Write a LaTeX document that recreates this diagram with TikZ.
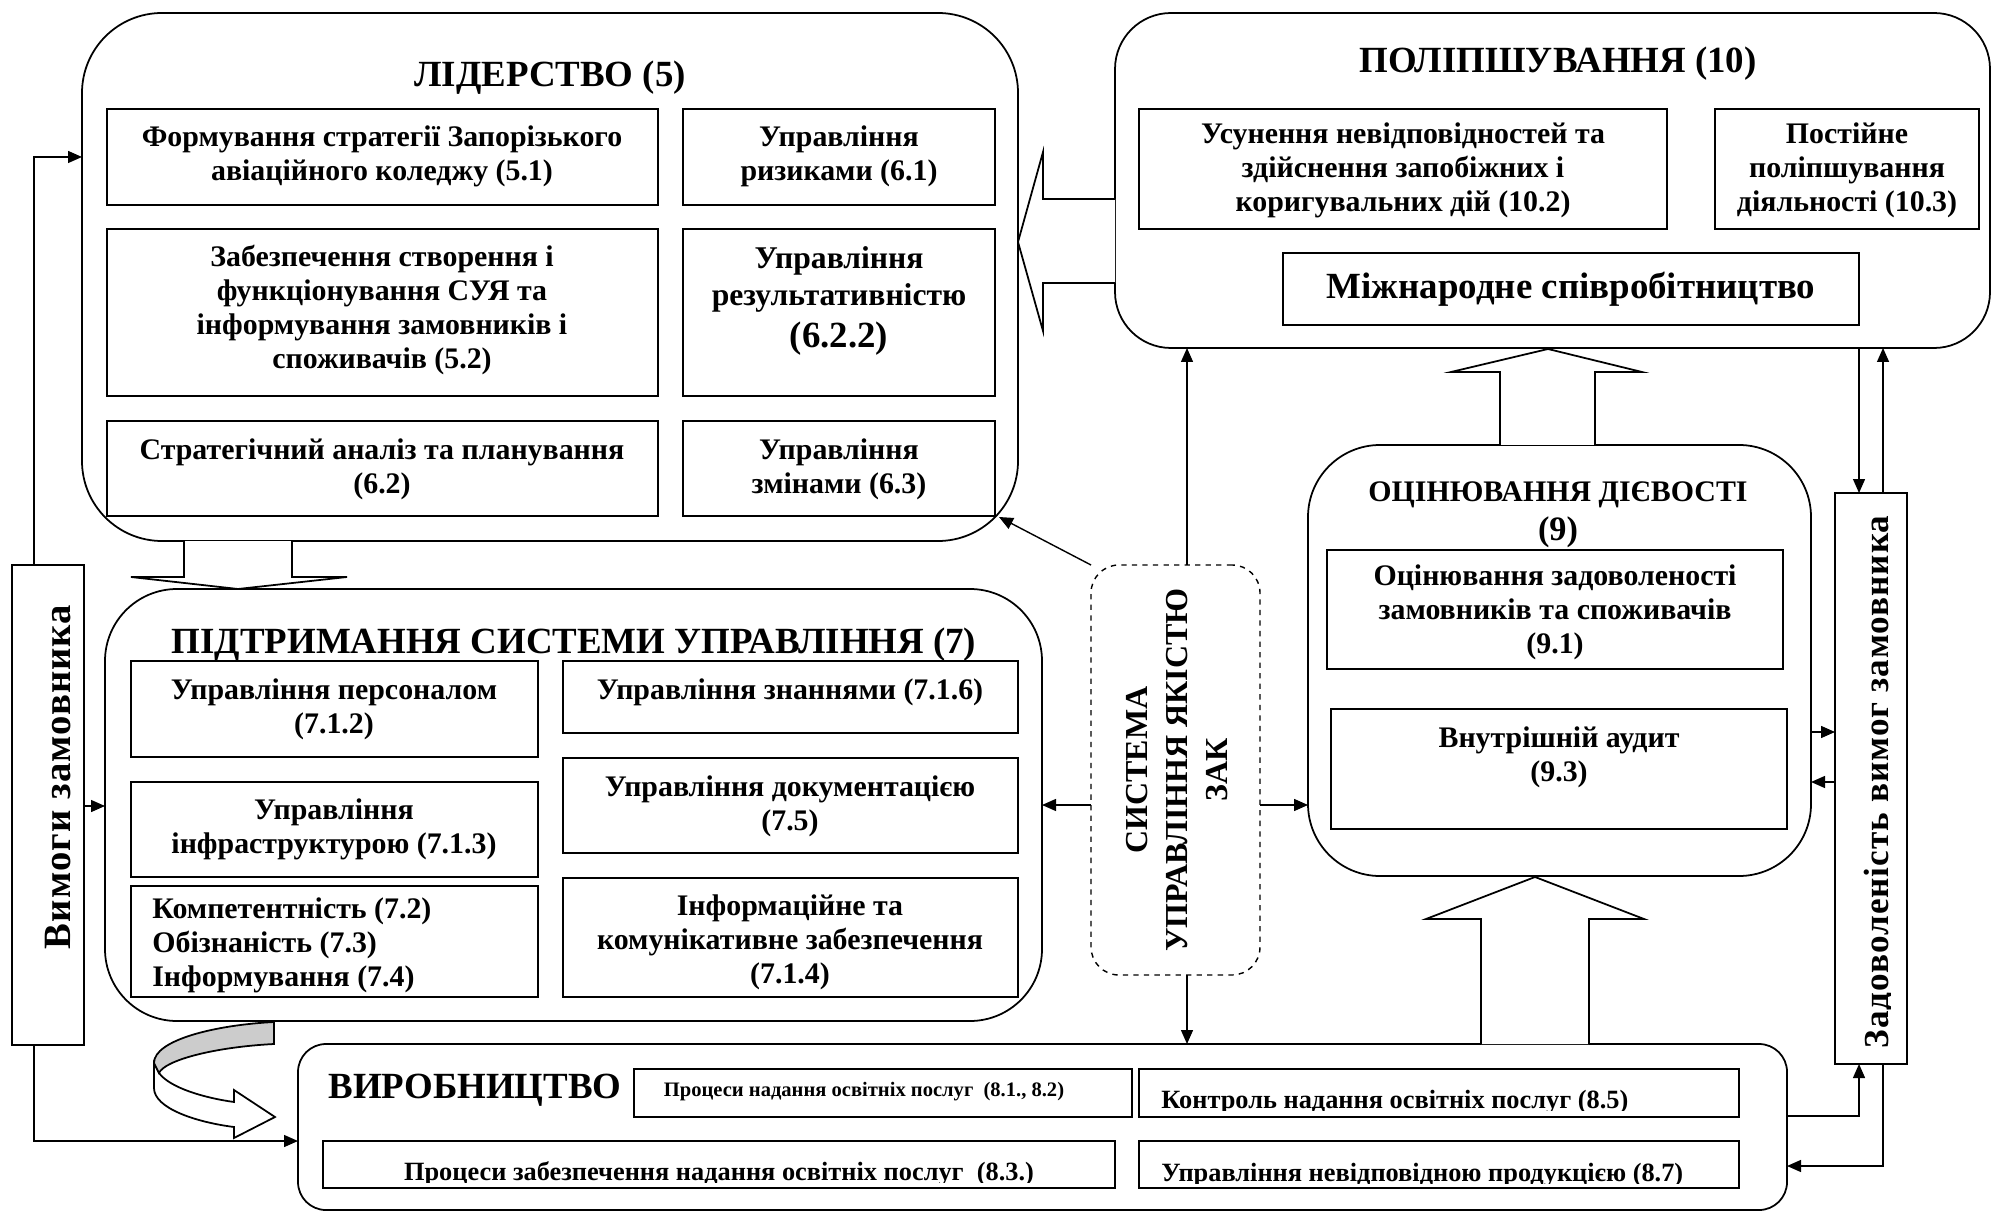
\documentclass[tikz,border=0pt]{standalone}
\usepackage{fontspec}
\setmainfont{Liberation Serif}
\newfontfamily\spacedA[LetterSpace=3]{Liberation Serif}
\newfontfamily\spacedB[LetterSpace=3]{Liberation Serif}
\usetikzlibrary{arrows.meta,fit}
\newcommand\fs[2]{\fontsize{#1}{#2}\selectfont}
\begin{document}
\begin{tikzpicture}[x=0.02cm,y=-0.02cm,
  every node/.style={font=\bfseries},
  rframe/.style={draw, line width=1pt, rounded corners=#1, inner sep=0pt, outer sep=0pt},
  ibox/.style={draw, line width=1.1pt, inner sep=0pt, outer sep=0pt},
  txt/.style={align=center, inner sep=0pt, font=\bfseries\fs{17}{19.3}},
  ttl/.style={inner sep=0pt, font=\bfseries\fs{21}{24}},
  arr/.style={line width=0.8pt, -{Triangle[length=0.28cm,width=0.24cm]}},
  blk/.style={draw, line width=1pt, fill=white, line join=miter},
]
\fill[white] (0,0) rectangle (1993,1212);
\useasboundingbox (0,0) rectangle (1993,1212);

% ---------- LEADERSHIP ----------
\node[rframe=1.6cm, fit={(82,13) (1018,541)}] (lead) {};
\node[ttl] (leadT) at (550,78) {ЛІДЕРСТВО (5)};
\node[ibox, fit={(107,109) (658,205)}] (b51) {};
\node[ibox, fit={(683,109) (995,205)}] (b61) {};
\node[ibox, fit={(107,229) (658,396)}] (b52) {};
\node[ibox, fit={(683,229) (995,396)}] (b622) {};
\node[ibox, fit={(107,421) (658,516)}] (b62) {};
\node[ibox, fit={(683,421) (995,516)}] (b63) {};
\node[txt] (t51) at (382,156) {Формування стратегії Запорізького\\авіаційного коледжу (5.1)};
\node[txt] (t61) at (839,156) {Управління\\ризиками (6.1)};
\node[txt] (t52) at (382,310) {Забезпечення створення і\\функціонування СУЯ та\\інформування замовників і\\споживачів (5.2)};
\node[inner sep=0pt, font=\bfseries\fs{18}{21}] (t622a) at (839,261) {Управління};
\node[inner sep=0pt, font=\bfseries\fs{18}{21}] (t622b) at (839,298) {результативністю};
\node[inner sep=0pt, font=\bfseries\fs{21}{24}] (t622c) at (839,339) {(6.2.2)};
\node[txt] (t62) at (382,469) {Стратегічний аналіз та планування\\(6.2)};
\node[txt] (t63) at (839,469) {Управління\\змінами (6.3)};

% ---------- IMPROVEMENT ----------
\node[rframe=1.12cm, fit={(1115,13) (1990,348)}] (impr) {};
\node[ttl] (imprT) at (1558,64) {ПОЛІПШУВАННЯ (10)};
\node[ibox, fit={(1139,109) (1667,229)}] (b102) {};
\node[ibox, fit={(1715,109) (1979,229)}] (b103) {};
\node[ibox, fit={(1283,253) (1859,325)}] (bmiz) {};
\node[txt] (t102) at (1403,170) {Усунення невідповідностей та\\здійснення запобіжних і\\коригувальних дій (10.2)};
\node[txt] (t103) at (1847,170) {Постійне\\поліпшування\\діяльності (10.3)};
\node[inner sep=0pt, font=\bfseries\fs{21}{24}] (tmiz) at (1571,289) {Міжнародне співробітництво};

% ---------- EVALUATION ----------
\node[rframe=1.44cm, fit={(1308,445) (1811,876)}] (ocin) {};
\node[inner sep=0pt, font=\bfseries\fs{17}{20}] (ocinT) at (1558,495) {ОЦІНЮВАННЯ ДІЄВОСТІ};
\node[inner sep=0pt, font=\bfseries\fs{19.5}{22}] (ocinN) at (1558,532) {(9)};
\node[ibox, fit={(1327,550) (1783,669)}] (b91) {};
\node[ibox, fit={(1331,709) (1787,829)}] (b93) {};
\node[txt] (t91) at (1555,612) {Оцінювання задоволеності\\замовників та споживачів\\(9.1)};
\node[txt] (t93) at (1559,757) {Внутрішній аудит\\(9.3)};

% ---------- CUSTOMER SATISFACTION ----------
\node[ibox, fit={(1835,493) (1907,1064)}] (zad) {};
\begin{scope}
\clip (1835,493) rectangle (1890,1064);
\node[rotate=90, anchor=base, inner sep=0pt, font=\spacedB\bfseries\fs{20}{24}] (zadT) at (1888,782) {Задоволеність вимог замовника};
\end{scope}

% ---------- QMS ----------
\node[draw, dashed, line width=0.8pt, rounded corners=0.56cm, inner sep=0pt, outer sep=0pt, fit={(1091,565) (1260,975)}] (suak) {};
\node[rotate=90, align=center, inner sep=0pt, font=\bfseries\fs{18.2}{22.7}] (suakT) at (1177,770) {СИСТЕМА\\УПРАВЛІННЯ ЯКІСТЮ\\ЗАК};

% ---------- SUPPORT ----------
\node[rframe=1.44cm, fit={(105,589) (1042,1021)}] (pid) {};
\node[ibox, fit={(131,661) (538,757)}] (b712) {};
\node[ibox, fit={(131,782) (538,877)}] (b713) {};
\node[ibox, fit={(131,886) (538,997)}] (b72) {};
\node[ibox, fit={(563,661) (1018,733)}] (b716) {};
\node[ibox, fit={(563,758) (1018,853)}] (b75) {};
\node[ibox, fit={(563,878) (1018,997)}] (b714) {};
\node[ttl] (pidT) at (574,645) {ПІДТРИМАННЯ СИСТЕМИ УПРАВЛІННЯ (7)};
\node[txt] (t712) at (334,709) {Управління персоналом\\(7.1.2)};
\node[txt] (t713) at (334,829) {Управління\\інфраструктурою (7.1.3)};
\node[txt, align=left, anchor=west] (t72) at (152,945) {Компетентність (7.2)\\Обізнаність (7.3)\\Інформування (7.4)};
\node[txt] (t716) at (790,692) {Управління знаннями (7.1.6)};
\node[txt] (t75) at (790,806) {Управління документацією\\(7.5)};
\node[txt] (t714) at (790,942) {Інформаційне та\\комунікативне забезпечення\\(7.1.4)};

% ---------- CUSTOMER REQUIREMENTS ----------
\node[ibox, fit={(12,565) (84,1045)}] (vym) {};
\node[rotate=90, anchor=base, inner sep=0pt, font=\spacedA\bfseries\fs{22}{26}] (vymT) at (70,777) {Вимоги замовника};

% ---------- PRODUCTION ----------
\node[rframe=0.56cm, fit={(298,1044) (1787,1210)}] (vyr) {};
\node[ttl] (vyrT) at (475,1090) {ВИРОБНИЦТВО};
\node[ibox, fit={(634,1069) (1132,1117)}] (b81) {};
\node[ibox, fit={(1139,1069) (1739,1117)}] (b85) {};
\node[ibox, fit={(323,1141) (1115,1188)}] (b83) {};
\node[ibox, fit={(1139,1141) (1739,1188)}] (b87) {};
\node[inner sep=0pt, font=\bfseries\fs{11.7}{14}] (t81) at (864,1092) {Процеси надання освітніх послуг\ \ (8.1., 8.2)};
\begin{scope}
\clip (1139,1069) rectangle (1739,1110);
\node[anchor=base west, inner sep=0pt, font=\bfseries\fs{15}{18}] (t85) at (1161,1108) {Контроль надання освітніх послуг (8.5)};
\end{scope}
\begin{scope}
\clip (1139,1141) rectangle (1739,1183);
\node[anchor=base west, inner sep=0pt, font=\bfseries\fs{15}{18}] (t87) at (1161,1181) {Управління невідповідною продукцією (8.7)};
\end{scope}
\begin{scope}
\clip (323,1141) rectangle (1115,1182);
\node[anchor=base, inner sep=0pt, font=\bfseries\fs{15}{18}] (t83) at (719,1180) {Процеси забезпечення надання освітніх послуг\ \ (8.3.)};
\end{scope}

% ---------- block arrows ----------
\draw[blk] (1115,199) -- (1043,199) -- (1043,152) -- (1018,242) -- (1043,331) -- (1043,283) -- (1115,283);
\draw[blk] (184,541) -- (184,577) -- (131,577) -- (238,589) -- (347,577) -- (292,577) -- (292,541);
\draw[blk] (1500,445) -- (1500,372) -- (1451,372) -- (1548,349) -- (1642,372) -- (1595,372) -- (1595,445);
\draw[blk] (1481,1044) -- (1481,919) -- (1426,919) -- (1535,877) -- (1644,919) -- (1589,919) -- (1589,1044);
% curved arrow
\draw[line width=1pt, fill=white, line join=miter] (154,1063) -- (154,1088) .. controls (154,1108) and (195,1122) .. (234,1127) -- (234,1138) -- (275,1117) -- (234,1090) -- (234,1102) .. controls (205,1098) and (170,1088) .. (159,1073) -- cycle;
\draw[line width=1pt, fill=gray!40, line join=miter] (274,1022) -- (274,1044) .. controls (215,1047) and (165,1060) .. (159,1073) -- (154,1063) .. controls (154,1040) and (215,1025) .. (274,1022) -- cycle;

% ---------- connectors ----------
\coordinate (xV) at (34,0);
\coordinate (yA) at (0,157);
\coordinate (yB) at (0,806);
\coordinate (yC) at (0,1141);
\coordinate (xS) at (1187,0);
\coordinate (yF) at (0,805);
\coordinate (xI) at (1859,0);
\coordinate (xJ) at (1883,0);
\coordinate (yK) at (0,732);
\coordinate (yL) at (0,782);
\coordinate (yM) at (0,1116);
\coordinate (yN) at (0,1166);
\coordinate (leadSE) at (999,517);

\draw[arr] (vym.north -| xV) |- (lead.west |- yA);
\draw[arr] (vym.east |- yB) -- (pid.west |- yB);
\draw[arr] (vym.south -| xV) |- (vyr.west |- yC);
\draw[arr] (suak.north -| xS) -- (impr.south -| xS);
\draw[arr] (suak.north west) -- (leadSE);
\draw[arr] (suak.west |- yF) -- (pid.east |- yF);
\draw[arr] (suak.east |- yF) -- (ocin.west |- yF);
\draw[arr] (suak.south -| xS) -- (vyr.north -| xS);
\draw[arr] (impr.south -| xI) -- (zad.north -| xI);
\draw[arr] (zad.north -| xJ) -- (impr.south -| xJ);
\draw[arr] (ocin.east |- yK) -- (zad.west |- yK);
\draw[arr] (zad.west |- yL) -- (ocin.east |- yL);
\draw[arr] (vyr.east |- yM) -| (zad.south -| xI);
\draw[arr] (zad.south -| xJ) |- (vyr.east |- yN);
\end{tikzpicture}
\end{document}
